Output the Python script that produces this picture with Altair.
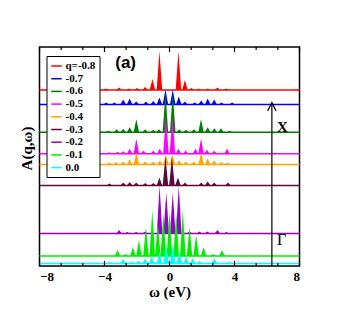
import altair as alt
import pandas as pd

# ---------------- data ----------------
series_labels = ["q=-0.8", "-0.7", "-0.6", "-0.5", "-0.4", "-0.3", "-0.2", "-0.1", "0.0"]
series_colors = ["#ff0000", "#0000ff", "#008000", "#ff00ff", "#ffa500",
                 "#5c0a3e", "#9a00cc", "#00ee00", "#00ffff"]
baselines = [176, 161.5, 133.7, 112.3, 101.5, 80.5, 32.5, 10, 2.5]

w_m08 = [-3.9, -3.1, -2.5, -2.0, -1.5, -1.05, -0.62, 0.55, 0.95, 1.35, 1.8, 2.35, 2.95, 3.5]
h_m08 = [1.5, 2.5, 1.5, 2, 3, 11, 39, 39, 10, 2, 1.5, 1.5, 2.5, 1.5]

w_m07 = [-3.9, -3.4, -2.85, -2.45, -2.05, -1.45, -1.0, -0.62, -0.25, 0.2, 0.57, 0.95, 1.55, 1.95, 2.35, 2.75, 3.2, 3.85]
h_m07 = [2, 2, 5, 6, 3, 3, 3.5, 7, 15, 15, 8, 3, 2, 4, 6, 5, 2, 2]

w_m06 = [-3.75, -3.25, -2.85, -2.45, -2.04, -1.5, -1.0, -0.65, -0.25, 0.2, 0.6, 1.0, 1.5, 1.94, 2.35, 2.76, 3.17, 3.7]
h_m06 = [1.5, 3, 3.5, 5, 13, 3, 2.5, 3, 40, 40, 3, 2.5, 3, 13, 5, 4, 4, 1.5]

w_m05 = [-3.7, -3.2, -2.85, -2.45, -2.04, -1.6, -1.0, -0.6, -0.22, 0.18, 0.55, 1.0, 1.6, 1.94, 2.3, 2.75, 3.54]
h_m05 = [1.5, 2, 2.5, 5, 15, 3, 3, 5, 38, 38, 5, 3, 5, 15, 4, 3, 5]

w_m04 = [-3.7, -3.3, -2.85, -2.45, -2.04, -1.5, -1.0, -0.6, -0.22, 0.18, 0.6, 1.0, 1.5, 1.95, 2.35, 2.75, 3.2, 3.55]
h_m04 = [2, 2.5, 3, 5, 12, 3, 3, 4, 10, 10, 4, 3, 3, 12, 6, 4, 2.5, 2]

w_m03 = [-3.7, -2.85, -2.45, -2.05, -1.5, -1.0, -0.62, -0.25, 0.15, 0.52, 0.95, 1.95, 2.35, 2.75, 3.6]
h_m03 = [2, 3, 3.5, 3, 2.5, 2.5, 8, 29, 29, 8, 3, 3, 4, 3, 3]

w_m02 = [-3.1, -2.6, -2.05, -1.5, -0.61, -0.2, 0.2, 0.57, 1.23, 1.84, 2.33, 2.95, 3.5]
h_m02 = [3.5, 1.5, 1.5, 2, 48, 41, 41, 48, 2, 2, 2, 3.5, 1.5]

w_m01 = [-3.2, -2.7, -2.25, -1.88, -1.45, -1.06, -0.72, -0.38, 0.0, 0.41, 0.82, 1.23, 1.64, 2.1, 2.7, 3.23]
h_m01 = [6, 2, 9, 16, 29, 46, 33, 43, 44, 43, 46, 29, 21, 9, 2, 6]

w_00 = [-3.7, -2.86, -2.35, -1.9, -1.5, -1.1, -0.62, -0.2, 0.2, 0.6, 1.02, 1.43, 1.85, 2.76, 3.65]
h_00 = [1.5, 4.5, 2, 3, 5, 7, 12, 19, 19, 12, 7, 5, 2.5, 5, 2]

peak_pos = [w_m08, w_m07, w_m06, w_m05, w_m04, w_m03, w_m02, w_m01, w_00]
peak_h = [h_m08, h_m07, h_m06, h_m05, h_m04, h_m03, h_m02, h_m01, h_00]
half_width = 0.17

x_domain = [-8, 8]
y_domain = [0, 219]
major_ticks = [-8, -4, 0, 4, 8]
minor_ticks = [-6.667, -5.333, -2.667, -1.333, 1.333, 2.667, 5.333, 6.667]

arrow_x = [6.3]
arrow_top = [163.3]
annot_a = {"x": [-2.7], "y": [203], "t": ["(a)"]}
annot_X = {"x": [6.95], "y": [139], "t": ["X"]}
annot_G = {"x": [6.9], "y": [26], "t": ["Γ"]}

# ---------------- encodings ----------------
xscale = alt.Scale(domain=x_domain, nice=False, zero=False)
yscale = alt.Scale(domain=y_domain, nice=False, zero=False)
xaxis = alt.Axis(values=major_ticks, ticks=False, domain=False, grid=False,
                 labelFont="Liberation Serif", labelFontWeight="bold", labelFontSize=13,
                 labelPadding=4, labelColor="black",
                 title="ω (eV)", titleFont="Liberation Serif", titleFontWeight="bold",
                 titleFontSize=15, titleY=25, titleBaseline="middle", titleColor="black")
yaxis = alt.Axis(labels=False, ticks=False, domain=False, grid=False,
                 title="A(q,ω)", titleFont="Liberation Serif", titleFontWeight="bold",
                 titleFontSize=15, titleX=-13, titleY=101, titleAngle=270,
                 titleBaseline="middle", titleAlign="center", titleColor="black")
X = alt.X("x:Q", scale=xscale, axis=xaxis)
Y = alt.Y("y:Q", scale=yscale, axis=yaxis)
color_scale = alt.Scale(domain=series_labels, range=series_colors)

# baselines
base_df = pd.DataFrame({"q": series_labels, "x": [x_domain[0]] * 9,
                        "x2": [x_domain[1]] * 9, "y": baselines})
base_layer = alt.Chart(base_df).mark_rule(strokeWidth=1.4).encode(
    x=X, x2="x2:Q", y=Y,
    color=alt.Color("q:N", scale=color_scale, sort=series_labels,
                    legend=alt.Legend(title=None, orient="none", legendX=7, legendY=9,
                                      symbolType="stroke", symbolStrokeWidth=1.5,
                                      symbolSize=110, labelFont="Liberation Serif",
                                      labelFontWeight="bold", labelFontSize=11,
                                      labelColor="black", labelOffset=3,
                                      rowPadding=1.7, padding=4, strokeColor="black",
                                      fillColor="white")),
)

layers = [base_layer]
for lab, off, pos, hs in zip(series_labels, baselines, peak_pos, peak_h):
    xs, ys = [], []
    for p, h in zip(pos, hs):
        xs += [p - half_width, p, p + half_width]
        ys += [off, off + h, off]
    df = pd.DataFrame({"x": xs, "y": ys, "y2": [off] * len(xs), "q": [lab] * len(xs)})
    layers.append(
        alt.Chart(df).mark_area(strokeWidth=0, opacity=1, interpolate="linear").encode(
            x=X, y=Y, y2="y2:Q",
            color=alt.Color("q:N", scale=color_scale, legend=None),
        )
    )

# inward ticks
tick_rows = []
for t in major_ticks:
    tick_rows += [{"x": t, "y": 0, "y2": 5}, {"x": t, "y": 219 - 5, "y2": 219}]
for t in minor_ticks:
    tick_rows += [{"x": t, "y": 0, "y2": 3}, {"x": t, "y": 219 - 3, "y2": 219}]
tick_layer = alt.Chart(pd.DataFrame(tick_rows)).mark_rule(color="black", strokeWidth=1.2).encode(
    x=X, y=Y, y2="y2:Q")
layers.append(tick_layer)

# arrow
arrow_df = pd.DataFrame({"x": arrow_x, "y": [0], "y2": arrow_top})
arrow_line = alt.Chart(arrow_df).mark_rule(color="black", strokeWidth=1.2).encode(x=X, y=Y, y2="y2:Q")
head_df = pd.DataFrame({"x": arrow_x, "y": [arrow_top[0] - 4]})
arrow_head = alt.Chart(head_df).mark_point(shape="M-1,1L0,-1L1,1", filled=False, color="black",
                                           strokeWidth=1.2, size=70, opacity=1).encode(x=X, y=Y)
layers += [arrow_line, arrow_head]

t_a = alt.Chart(pd.DataFrame(annot_a)).mark_text(font="Liberation Sans", fontWeight="bold",
                                                   fontSize=17, baseline="middle", color="black").encode(
    x=X, y=Y, text="t:N")
t_X = alt.Chart(pd.DataFrame(annot_X)).mark_text(font="Liberation Serif", fontWeight="bold",
                                                   fontSize=15, baseline="middle", color="black").encode(
    x=X, y=Y, text="t:N")
t_G = alt.Chart(pd.DataFrame(annot_G)).mark_text(font="Liberation Serif", fontSize=16,
                                                   baseline="middle", color="black").encode(
    x=X, y=Y, text="t:N")
layers += [t_a, t_X, t_G]

chart = alt.layer(*layers).properties(
    width=260, height=219, autosize="none",
    padding={"left": 31.5, "top": 39, "right": 30, "bottom": 40},
).configure_view(stroke="black", strokeWidth=1.5)

chart.save("out.html", embed_options={"renderer": "svg", "actions": False})
